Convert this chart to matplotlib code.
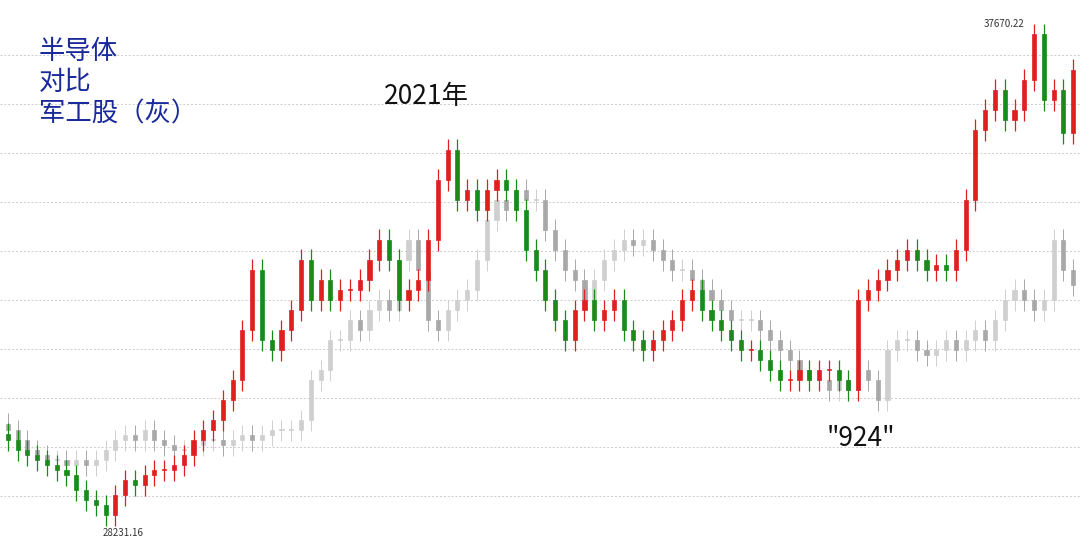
import numpy as np
import matplotlib
matplotlib.use("Agg")
import matplotlib.pyplot as plt

plt.rcParams['font.family'] = ['Noto Sans CJK SC', 'DejaVu Sans']

semi_close = [29666,29479,29385,29292,29198,29105,29011,28731,28544,28450,
 28263,28637,28918,28824,29011,29105,29105,29198,29385,29666,
 29853,30040,30414,30788,31723,32845,31536,31349,31723,32097,
 33032,32284,32658,32284,32471,32471,32658,33032,33406,33032,
 32284,32471,32658,33406,34528,35089,34154,34341,33967,34341,
 34528,34341,33967,33219,32845,32284,31910,31536,32097,32284,
 31910,32097,32284,31723,31536,31349,31536,31723,31910,32284,
 32471,32097,31910,31723,31536,31349,31349,31162,30975,30788,
 30788,30975,30788,30975,30975,30788,30601,32284,32471,32658,
 32845,33032,33219,33032,32845,32939,32845,33219,34154,35463,
 35837,36211,35650,35837,36398,37250,36024,36211,35400,36585]
mil_close = [29853,29666,29479,29385,29292,29292,29198,29292,29198,29292,
 29479,29666,29759,29666,29853,29666,29572,29479,29479,29572,
 29666,29666,29572,29666,29759,29666,29759,29853,29853,29853,
 30040,30788,30975,31536,31536,31910,31723,32097,32284,32097,
 33032,33406,32845,31910,31723,32097,32284,32471,33032,33780,
 34154,33967,34341,34154,34154,33593,33219,32845,32658,32284,
 32658,33032,33219,33406,33312,33406,33219,33032,32845,32845,
 32658,32471,32284,32097,31910,31910,31910,31723,31536,31349,
 31162,30975,30788,30788,30601,30788,30601,30975,30788,30414,
 31349,31536,31536,31349,31255,31349,31536,31349,31536,31723,
 31536,31910,32284,32471,32284,32097,32284,33406,32845,32565]
low_label = "28231.16"
high_label = "37670.22"

fig = plt.figure(figsize=(10.8, 5.38), dpi=100)
ax = fig.add_axes([0, 0, 1, 1])
n = len(semi_close)
x = np.arange(n)

def candles(close, up, down, lw, z=2):
    c = np.array(close, float)
    o = np.r_[c[0] + 120, c[:-1]]
    hi = np.maximum(o, c) + 200
    lo = np.minimum(o, c) - 200
    for i in range(len(c)):
        col = up if c[i] >= o[i] else down
        ax.vlines(x[i], lo[i], hi[i], color=col, lw=lw, zorder=z)
        ax.bar(x[i], max(abs(c[i]-o[i]), 20), bottom=min(o[i], c[i]), width=0.42,
               color=col, edgecolor=col, lw=0.5, zorder=z)
    return lo, hi

candles(mil_close, '#cfcfcf', '#a8a8a8', 0.7, z=1)
lo, hi = candles(semi_close, '#e02020', '#1a8a1a', 0.9, z=2)

ax.set_xlim(-0.8, n - 0.3)
ax.set_ylim(27840, 37894)
for g in np.arange(36866, 27900, -916):
    ax.axhline(g, color='#cccccc', lw=0.7, ls=(0, (2, 2)), zorder=0)
ax.axis('off')

imin = int(np.argmin(lo)); imax = int(np.argmax(hi))
ax.text(imin - 0.3, lo[imin] - 30, low_label, fontsize=7, va='top', ha='left', color='#333333')
ax.text(imax - 1, hi[imax], high_label, fontsize=7, va='center', ha='right', color='#333333')

fig.text(0.036, 0.93, "半导体\n对比\n军工股（灰）", color='#1a2a9a', fontsize=19,
         va='top', ha='left', linespacing=1.2)
fig.text(0.356, 0.82, "2021年", color='#111111', fontsize=19, ha='left', va='center')
fig.text(0.765, 0.185, '"924"', color='#111111', fontsize=19, ha='left', va='center')

fig.savefig("out.png", dpi=100)
